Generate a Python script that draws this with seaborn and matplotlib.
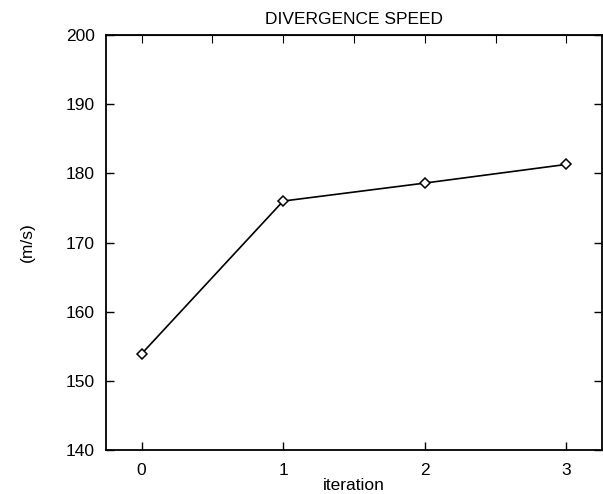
import pandas as pd
import matplotlib
matplotlib.use("Agg")
import matplotlib.pyplot as plt
import seaborn as sns

iteration = [0, 1, 2, 3]
speed = [153.9, 176.0, 178.6, 181.3]

df = pd.DataFrame({"iteration": iteration, "speed": speed})

sns.set_style("ticks")
plt.rcParams["font.family"] = ["Liberation Sans", "DejaVu Sans"]
plt.rcParams["text.color"] = "black"
plt.rcParams["xtick.color"] = "black"
plt.rcParams["ytick.color"] = "black"
plt.rcParams["axes.labelcolor"] = "black"

fig = plt.figure(figsize=(6.03, 4.94), dpi=100)
ax = fig.add_axes([0.176, 0.089, 0.822, 0.84])

sns.lineplot(
    data=df, x="iteration", y="speed", ax=ax,
    color="black", linewidth=1.2,
    marker="D", markersize=5, markerfacecolor="white",
    markeredgecolor="black", markeredgewidth=1.1
)

ax.set_xlim(-0.25, 3.25)
ax.set_ylim(140, 200)
ax.set_xticks([0, 1, 2, 3])
ax.set_yticks(range(140, 201, 10))
ax.tick_params(direction="in", length=6, width=1, labelsize=12.5,
               top=False, right=True)
ax.tick_params(axis="x", pad=9)
ax.tick_params(axis="y", pad=8)

top = ax.secondary_xaxis("top")
top.set_xticks([i * 0.5 for i in range(7)])
top.tick_params(direction="in", length=6, labeltop=False)

for s in ax.spines.values():
    s.set_linewidth(1.3)
    s.set_color("black")

ax.set_title("DIVERGENCE SPEED", fontsize=12.5, pad=8)
ax.set_xlabel("iteration", fontsize=12.5, labelpad=0)
ax.set_ylabel("(m/s)", fontsize=12.5, labelpad=22)

fig.savefig("out.png", dpi=100)
